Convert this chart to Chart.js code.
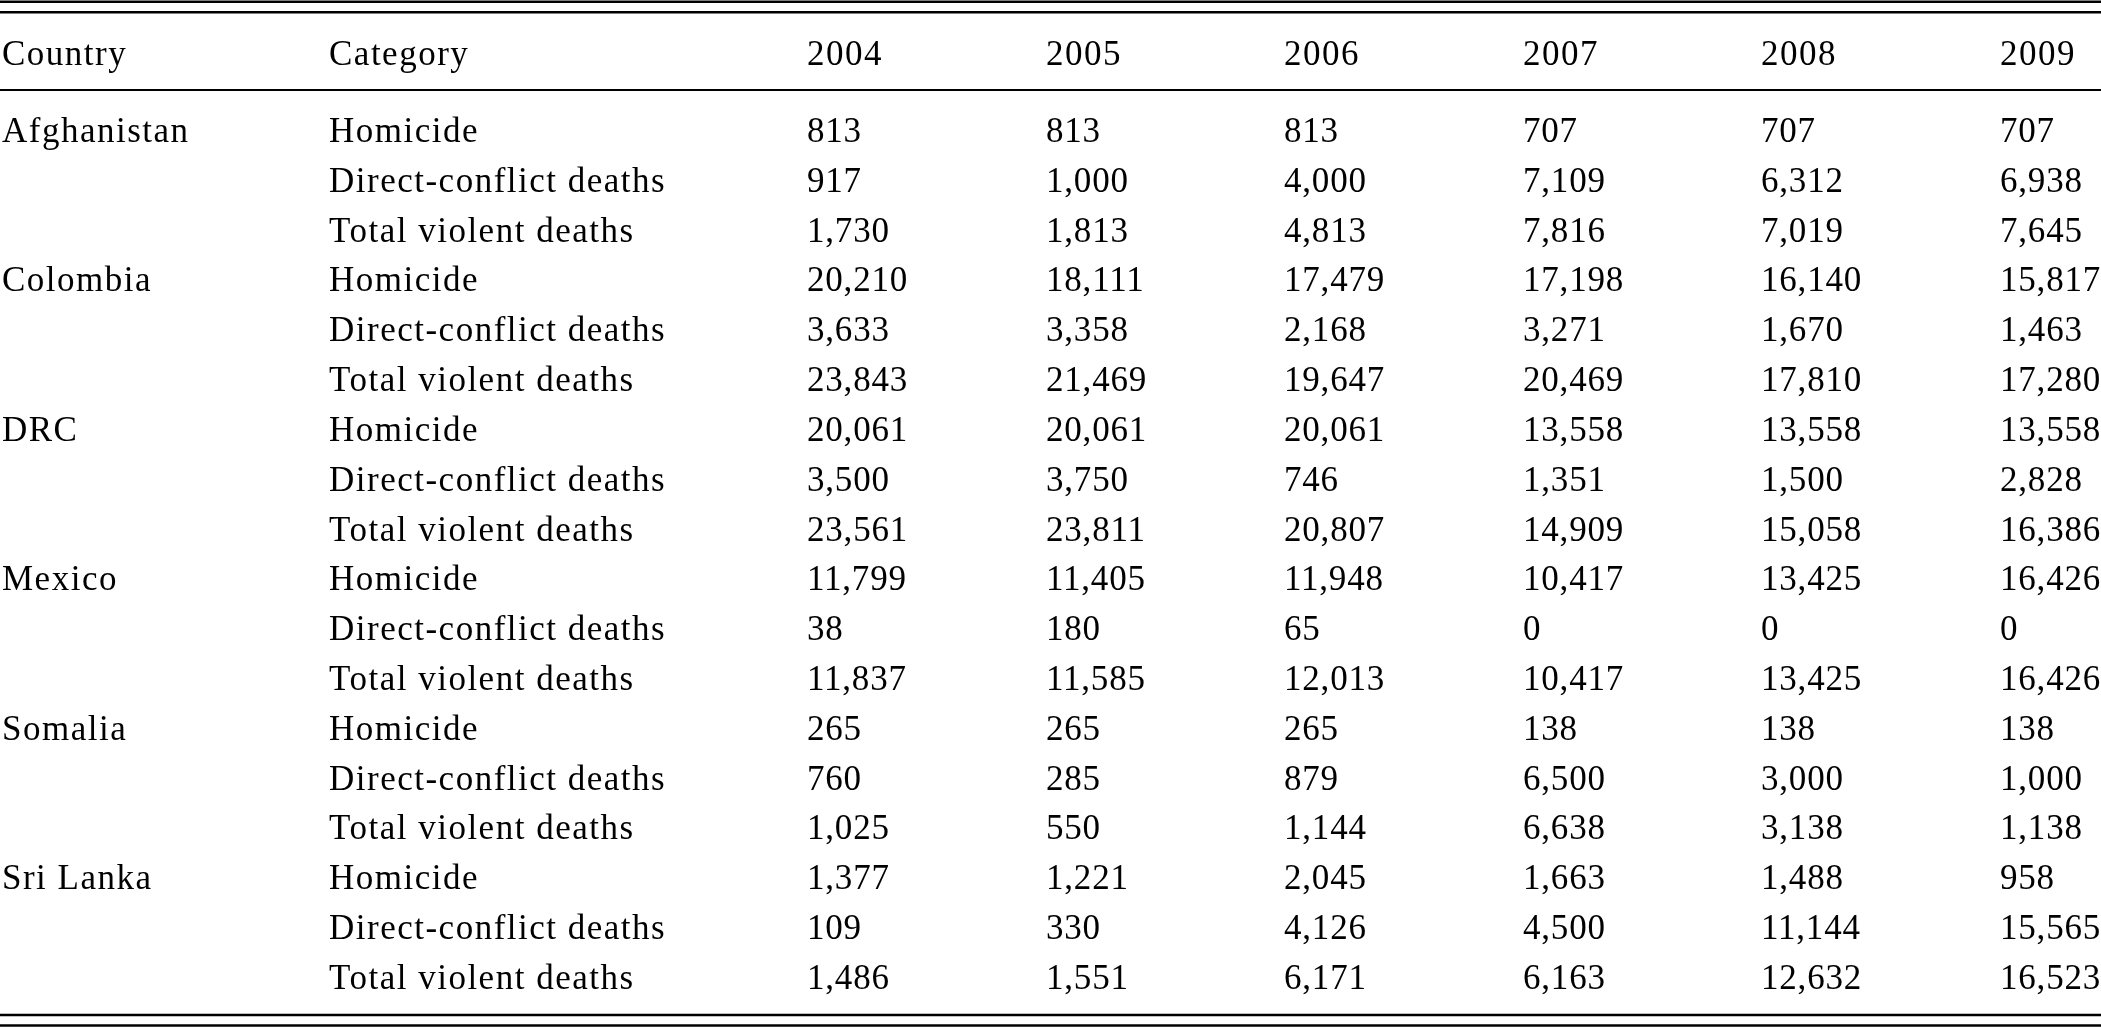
<!DOCTYPE html>
<html>
<head>
<meta charset="utf-8">
<title>Violent deaths by country, 2004-2009</title>
<script src="https://cdn.jsdelivr.net/npm/chart.js@4.4.1/dist/chart.umd.min.js"></script>
<style>
  html, body { margin: 0; padding: 0; background: #fff; }
  #wrap { width: 2101px; height: 1028px; position: relative; }
</style>
</head>
<body>
<div id="wrap"><canvas id="tableChart"></canvas></div>
<script>
// --- data ---
const columns = ['Country', 'Category', '2004', '2005', '2006', '2007', '2008', '2009'];
const countries = ['Afghanistan', 'Colombia', 'DRC', 'Mexico', 'Somalia', 'Sri Lanka'];
const categories = ['Homicide', 'Direct-conflict deaths', 'Total violent deaths'];

// one row per country, one value per year
const homicide = [
    [813, 813, 813, 707, 707, 707],
    [20210, 18111, 17479, 17198, 16140, 15817],
    [20061, 20061, 20061, 13558, 13558, 13558],
    [11799, 11405, 11948, 10417, 13425, 16426],
    [265, 265, 265, 138, 138, 138],
    [1377, 1221, 2045, 1663, 1488, 958]
];
const directConflict = [
    [917, 1000, 4000, 7109, 6312, 6938],
    [3633, 3358, 2168, 3271, 1670, 1463],
    [3500, 3750, 746, 1351, 1500, 2828],
    [38, 180, 65, 0, 0, 0],
    [760, 285, 879, 6500, 3000, 1000],
    [109, 330, 4126, 4500, 11144, 15565]
];
const totalViolent = [
    [1730, 1813, 4813, 7816, 7019, 7645],
    [23843, 21469, 19647, 20469, 17810, 17280],
    [23561, 23811, 20807, 14909, 15058, 16386],
    [11837, 11585, 12013, 10417, 13425, 16426],
    [1025, 550, 1144, 6638, 3138, 1138],
    [1486, 1551, 6171, 6163, 12632, 16523]
];

// --- layout (scale units, not data) ---
const colLeft = [2, 329, 807, 1046, 1284, 1523, 1761, 2000]; // x scale runs 0..2101
const headerRow = -1.546;                 // y scale: body rows are 0..17
const ruleRows = [-2.816, -2.603, -1.044, 17.523, 17.734];
const ruleWidths = [2.5, 2.5, 2, 2.5, 2.5];
const FONT = '35px "Liberation Serif"';
const INK = '#000';

function buildDatasets() {
    const series = [homicide, directConflict, totalViolent];
    const sets = [];

    sets.push({
        label: 'header',
        spacing: '1.5px',
        data: columns.map((c, i) => ({ x: colLeft[i], y: headerRow, text: c }))
    });
    sets.push({
        label: 'country',
        spacing: '1.5px',
        data: countries.map((c, i) => ({ x: colLeft[0], y: i * 3, text: c }))
    });

    let cat = [];
    countries.forEach((c, i) => {
        categories.forEach((k, j) => cat.push({ x: colLeft[1], y: i * 3 + j, text: k }));
    });
    sets.push({ label: 'category', spacing: '1.5px', data: cat });

    columns.slice(2).forEach((year, y) => {
        let pts = [];
        countries.forEach((c, i) => {
            series.forEach((s, j) => {
                pts.push({ x: colLeft[y + 2], y: i * 3 + j, text: s[i][y].toLocaleString('en-US') });
            });
        });
        sets.push({ label: year, spacing: '0.8px', data: pts });
    });

    return sets.map(d => Object.assign(d, { pointRadius: 0, pointHoverRadius: 0, showLine: false }));
}

// draws the cell texts at the element positions and the horizontal rules
const tablePlugin = {
    id: 'tablePlugin',
    afterDatasetsDraw(chart) {
        const ctx = chart.ctx;
        const area = chart.chartArea;
        const yScale = chart.scales.y;

        ctx.save();
        ctx.strokeStyle = INK;
        ruleRows.forEach((r, i) => {
            const py = yScale.getPixelForValue(r);
            ctx.lineWidth = ruleWidths[i];
            ctx.beginPath();
            ctx.moveTo(area.left, py);
            ctx.lineTo(area.right, py);
            ctx.stroke();
        });

        ctx.fillStyle = INK;
        ctx.font = FONT;
        ctx.textAlign = 'left';
        ctx.textBaseline = 'alphabetic';
        chart.data.datasets.forEach((ds, di) => {
            ctx.letterSpacing = ds.spacing;
            chart.getDatasetMeta(di).data.forEach((pt, k) => {
                ctx.fillText(ds.data[k].text, pt.x, pt.y);
            });
        });
        ctx.restore();
    }
};

function createChart(ctx) {
    return new Chart(ctx, {
        type: 'scatter',
        data: { datasets: buildDatasets() },
        options: {
            responsive: true,
            maintainAspectRatio: false,
            animation: false,
            layout: { padding: 0 },
            scales: {
                x: { type: 'linear', min: 0, max: 2101, display: false },
                y: { type: 'linear', reverse: true, min: -2.850, max: 17.784, display: false }
            },
            plugins: {
                legend: { display: false },
                tooltip: { enabled: false }
            },
            events: []
        },
        plugins: [tablePlugin]
    });
}

document.addEventListener('DOMContentLoaded', () => {
    const ctx = document.getElementById('tableChart').getContext('2d');
    createChart(ctx);
});
</script>
</body>
</html>
